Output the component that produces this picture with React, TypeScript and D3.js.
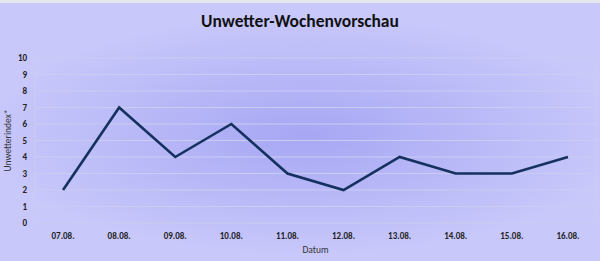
import React from "react";
import * as d3 from "d3";

const categories = ["07.08.", "08.08.", "09.08.", "10.08.", "11.08.", "12.08.", "13.08.", "14.08.", "15.08.", "16.08."];
const values = [2, 7, 4, 6, 3, 2, 4, 3, 3, 4];
const yTicks = [0, 1, 2, 3, 4, 5, 6, 7, 8, 9, 10];
const title = "Unwetter-Wochenvorschau";
const yTitle = "Unwetterindex*";
const xTitle = "Datum";

const W = 600, H = 261;
const plot = { left: 35, right: 596, top: 58, bottom: 223 };

export default function App() {
  const x = d3.scaleBand<string>().domain(categories).range([plot.left, plot.right]).padding(0);
  const y = d3.scaleLinear().domain([0, 10]).range([plot.bottom, plot.top]);
  const line = d3.line<number>()
    .x((_, i) => (x(categories[i]) as number) + x.bandwidth() / 2)
    .y((d) => y(d));
  const font = "Calibri, Carlito, 'Open Sans', 'Liberation Sans', sans-serif";
  return (
    <svg width={W} height={H} style={{ position: "absolute", left: 0, top: 0, display: "block" }} fontFamily={font}>
      <defs>
        <radialGradient id="bg" gradientUnits="userSpaceOnUse" cx={0} cy={0} r={1}
          gradientTransform="translate(305,135) scale(320,120)">
          <stop offset="0" stopColor="#a6a6f4" />
          <stop offset="0.45" stopColor="#b6b6f7" />
          <stop offset="1" stopColor="#c8c8fb" />
        </radialGradient>
      </defs>
      <rect x={0} y={0} width={W} height={H} fill="#c8c8fb" />
      <rect x={0} y={0} width={W} height={H} fill="url(#bg)" />
      <rect x={0} y={0} width={W} height={3} fill="#e6e6ee" />
      <text x={300} y={27} textAnchor="middle" fontSize={17.5} fontWeight="bold" fill="#111">{title}</text>
      {yTicks.map((t) => (
        <g key={t}>
          <line x1={plot.left} x2={plot.right} y1={y(t)} y2={y(t)} stroke="#ccccf0" strokeWidth={1} />
          <text x={27} y={y(t) + 3} textAnchor="end" fontSize={9} fontWeight="bold" fill="#222">{t}</text>
        </g>
      ))}
      <line x1={plot.left} x2={plot.left} y1={plot.top} y2={plot.bottom} stroke="#ccccf0" />
      <line x1={plot.right} x2={plot.right} y1={plot.top} y2={plot.bottom} stroke="#ccccf0" />
      {categories.map((c) => (
        <text key={c} x={(x(c) as number) + x.bandwidth() / 2} y={239} textAnchor="middle" fontSize={9} fontWeight="bold" fill="#222">{c}</text>
      ))}
      <text x={(plot.left + plot.right) / 2} y={253} textAnchor="middle" fontSize={9.5} fill="#333">{xTitle}</text>
      <text transform={`translate(11,${(plot.top + plot.bottom) / 2}) rotate(-90)`} textAnchor="middle" fontSize={9.5} fill="#333">{yTitle}</text>
      <path d={line(values) ?? ""} fill="none" stroke="#14315f" strokeWidth={2.6} strokeLinejoin="miter" />
    </svg>
  );
}
